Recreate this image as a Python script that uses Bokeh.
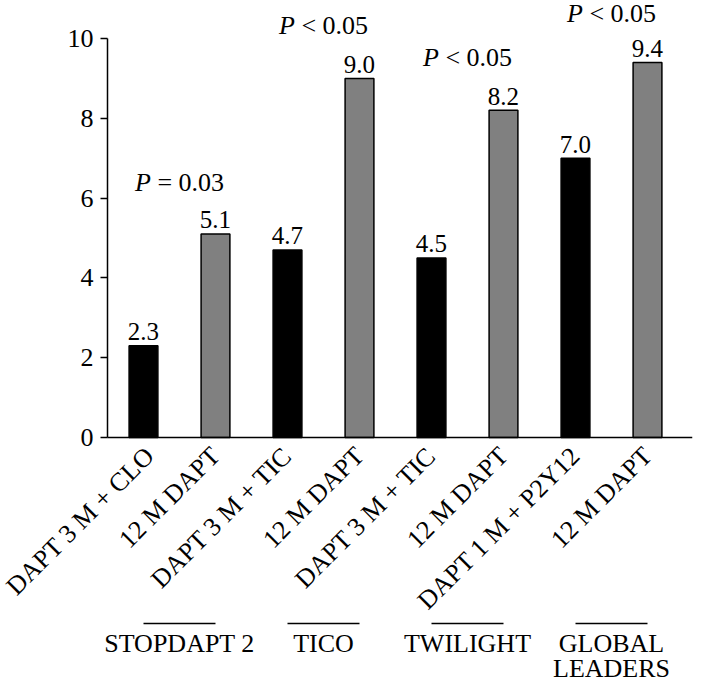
import math
from bokeh.plotting import figure
from bokeh.models import ColumnDataSource, Range1d, LinearAxis, FixedTicker, Label
from bokeh.core.properties import value
from bokeh.embed import file_html
from bokeh.resources import INLINE

# ---- data ----
categories = ["DAPT 3 M + CLO", "12 M DAPT", "DAPT 3 M + TIC", "12 M DAPT",
              "DAPT 3 M + TIC", "12 M DAPT", "DAPT 1 M + P2Y12", "12 M DAPT"]
values = [2.3, 5.1, 4.7, 9.0, 4.5, 8.2, 7.0, 9.4]
trials = ["STOPDAPT 2", "TICO", "TWILIGHT", "GLOBAL\nLEADERS"]
p_texts = ["= 0.03", "< 0.05", "< 0.05", "< 0.05"]
y_ticks = [0, 2, 4, 6, 8, 10]

# ---- styling / layout ----
FONT = "Liberation Serif"
FS = "26px"
bar_colors = ["#000000", "#808080"] * 4
p_heights = [6.39, 10.33, 9.52, 10.63]   # label baselines (data units)
group_line_y = -4.66
group_text_y = [-5.16, -5.80]            # baselines of 1st / 2nd text line
y_axis_x = -0.5                          # where the value axis stands

xs = list(range(len(values)))
src = ColumnDataSource(dict(x=xs, top=values, color=bar_colors,
                            lab=[f"{v:.1f}" for v in values]))

p = figure(width=700, height=685, output_backend="svg", toolbar_location=None,
           x_range=Range1d(-1.986, 7.625), y_range=Range1d(-6.216, 10.952),
           x_axis_type=None, y_axis_type=None,
           min_border_left=0, min_border_right=8, min_border_top=0,
           min_border_bottom=0)
p.outline_line_color = None
p.xgrid.visible = False
p.ygrid.visible = False
p.background_fill_color = "white"
p.border_fill_color = "white"

p.vbar(x="x", top="top", width=0.4, bottom=0, source=src,
       fill_color="color", line_color="black", line_width=1.5)

p.text(x="x", y="top", text="lab", source=src, text_align="center",
       text_baseline="alphabetic", y_offset=-14,
       text_font=value(FONT), text_font_size="25px", text_color="black")

# y axis
yaxis = LinearAxis(ticker=FixedTicker(ticks=y_ticks), bounds=(0, 10),
                   fixed_location=y_axis_x)
yaxis.axis_line_width = 1.5
yaxis.axis_line_color = "black"
yaxis.major_tick_line_width = 1.5
yaxis.major_tick_in = 0
yaxis.major_tick_out = 7
yaxis.minor_tick_line_color = None
yaxis.major_label_standoff = 7
yaxis.major_label_text_font = FONT
yaxis.major_label_text_font_size = FS
yaxis.major_label_text_color = "black"
p.add_layout(yaxis, "left")

# x axis (drawn at y = 0)
xaxis = LinearAxis(ticker=FixedTicker(ticks=xs), fixed_location=0,
                   bounds=(y_axis_x, 7.625))
xaxis.major_label_overrides = {i: c for i, c in zip(xs, categories)}
xaxis.axis_line_width = 1.5
xaxis.axis_line_color = "black"
xaxis.major_tick_line_color = None
xaxis.minor_tick_line_color = None
xaxis.major_label_orientation = math.pi / 4
xaxis.major_label_standoff = 8
xaxis.major_label_text_font = FONT
xaxis.major_label_text_font_size = FS
xaxis.major_label_text_color = "black"
p.add_layout(xaxis, "below")

# P-value labels
for k, (pt, ph) in enumerate(zip(p_texts, p_heights)):
    cx = 2 * k + 0.5
    p.add_layout(Label(x=cx, y=ph, text="P", x_offset=-44.5,
                       text_align="left", text_baseline="alphabetic",
                       text_font=FONT, text_font_style="italic",
                       text_font_size=FS, text_color="black"))
    p.add_layout(Label(x=cx, y=ph, text=pt, x_offset=-22.1,
                       text_align="left", text_baseline="alphabetic",
                       text_font=FONT, text_font_size=FS,
                       text_color="black"))

# group lines and labels
gx0 = [2 * k for k in range(len(trials))]
gx1 = [2 * k + 1 for k in range(len(trials))]
p.segment(x0=gx0, x1=gx1, y0=[group_line_y] * len(trials),
          y1=[group_line_y] * len(trials), line_color="black", line_width=1.5)

tx, ty, tt = [], [], []
for k, name in enumerate(trials):
    for j, line in enumerate(name.split("\n")):
        tx.append(2 * k + 0.5)
        ty.append(group_text_y[j])
        tt.append(line)
p.text(x=tx, y=ty, text=tt, text_align="center", text_baseline="alphabetic",
       text_font=value(FONT), text_font_size=FS, text_color="black")

open("out.html", "w").write(file_html(p, INLINE))
